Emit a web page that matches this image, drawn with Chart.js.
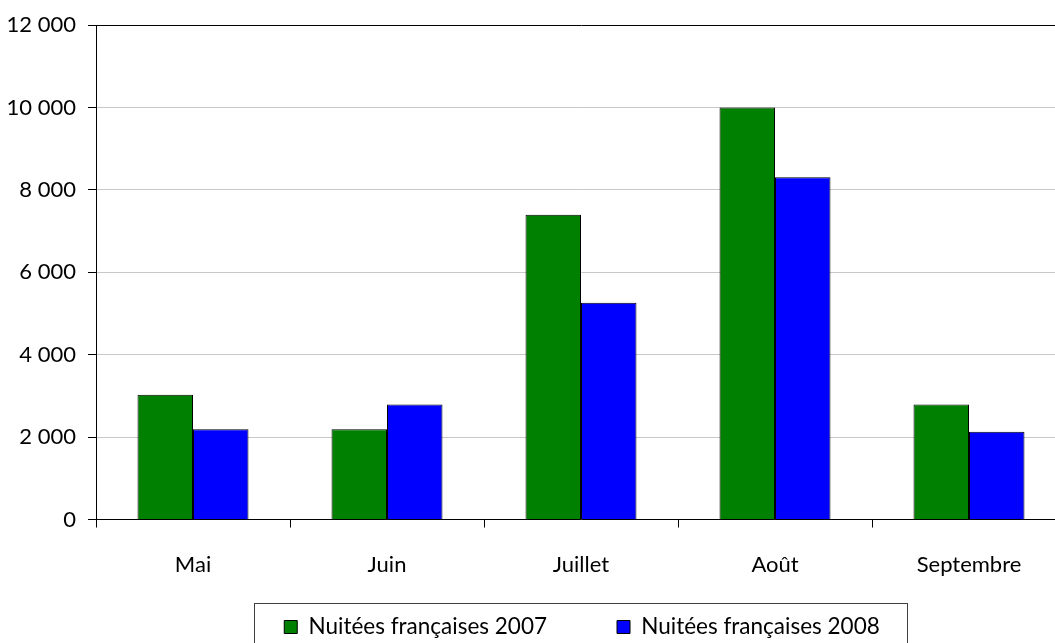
<!DOCTYPE html>
<html>
<head>
<meta charset="utf-8">
<script src="https://cdn.jsdelivr.net/npm/chart.js@4/dist/chart.umd.min.js"></script>
<style>
html,body{margin:0;padding:0;background:#fff;overflow:hidden;width:1055px;height:643px;}
#wrap{position:absolute;left:0;top:0;width:1066px;height:682px;}
</style>
</head>
<body>
<div id="wrap"><canvas id="c" width="1066" height="682"></canvas></div>
<script>
const categories = ["Mai", "Juin", "Juillet", "Août", "Septembre"];
const series2007 = [3030, 2190, 7400, 10000, 2790];
const series2008 = [2190, 2790, 5260, 8310, 2130];
const seriesNames = ["Nuitées françaises 2007", "Nuitées françaises 2008"];
const yTicks = [0, 2000, 4000, 6000, 8000, 10000, 12000];

const FONT = "Lato";
const LEG_FONT = 22.5;
const LEG_PAD = 70;
const LEG_CX = 582;
const LEG_MID = 627;

const legendPlace = {
  id: "legendPlace",
  afterLayout(chart) {
    const lg = chart.legend;
    if (!lg) return;
    const s = LEG_CX - (lg.left + lg.right) / 2;
    lg.left += s;
    lg.right += s;
    const h = lg.bottom - lg.top;
    lg.top = LEG_MID - LEG_PAD - LEG_FONT / 2;
    lg.bottom = lg.top + h;
  },
  afterDraw(chart) {
    const lg = chart.legend;
    if (!lg) return;
    const ctx = chart.ctx;
    const top = 603;
    const left = 254;
    const right = 907;
    ctx.save();
    ctx.strokeStyle = "#404040";
    ctx.lineWidth = 1;
    ctx.strokeRect(left + 0.5, top + 0.5, right - left, 100);
    ctx.restore();
  }
};

new Chart(document.getElementById("c"), {
  type: "bar",
  data: {
    labels: categories,
    datasets: [
      { label: seriesNames[0], data: series2007, backgroundColor: "#008000", borderColor: "#000", borderWidth: 1 },
      { label: seriesNames[1], data: series2008, backgroundColor: "#0000ff", borderColor: "#000", borderWidth: 1 }
    ]
  },
  options: {
    responsive: false,
    animation: false,
    devicePixelRatio: 1,
    layout: { padding: { top: 25, left: 0, right: 0, bottom: 0 } },
    datasets: { bar: { categoryPercentage: 0.572, barPercentage: 1 } },
    plugins: {
      tooltip: { enabled: false },
      legend: {
        position: "bottom",
        labels: {
          font: { family: FONT, size: LEG_FONT },
          color: "#000",
          boxWidth: 13,
          boxHeight: 13,
          padding: LEG_PAD
        }
      }
    },
    scales: {
      x: {
        offset: true,
        grid: { offset: true, drawOnChartArea: false, drawTicks: true, tickLength: 8, color: "#000" },
        border: { color: "#000", width: 1 },
        ticks: { font: { family: FONT, size: 22 }, color: "#000", padding: 24, maxRotation: 0 },
        afterFit(scale) { scale.height = 60; }
      },
      y: {
        min: 0, max: 12000,
        afterBuildTicks(scale) { scale.ticks = yTicks.map(v => ({ value: v })); },
        grid: {
          color: ctx => (ctx.tick && ctx.tick.value === 12000) ? "#000" : "#c8c8c8",
          tickColor: "#000",
          tickLength: 8,
          lineWidth: 1
        },
        border: { color: "#000", width: 1 },
        ticks: {
          font: { family: FONT, size: 22 },
          color: "#000",
          padding: 12,
          callback: v => String(v).replace(/\B(?=(\d{3})+(?!\d))/g, " ")
        },
        afterFit(scale) { scale.width = 96; }
      }
    }
  },
  plugins: [legendPlace]
});
</script>
</body>
</html>
